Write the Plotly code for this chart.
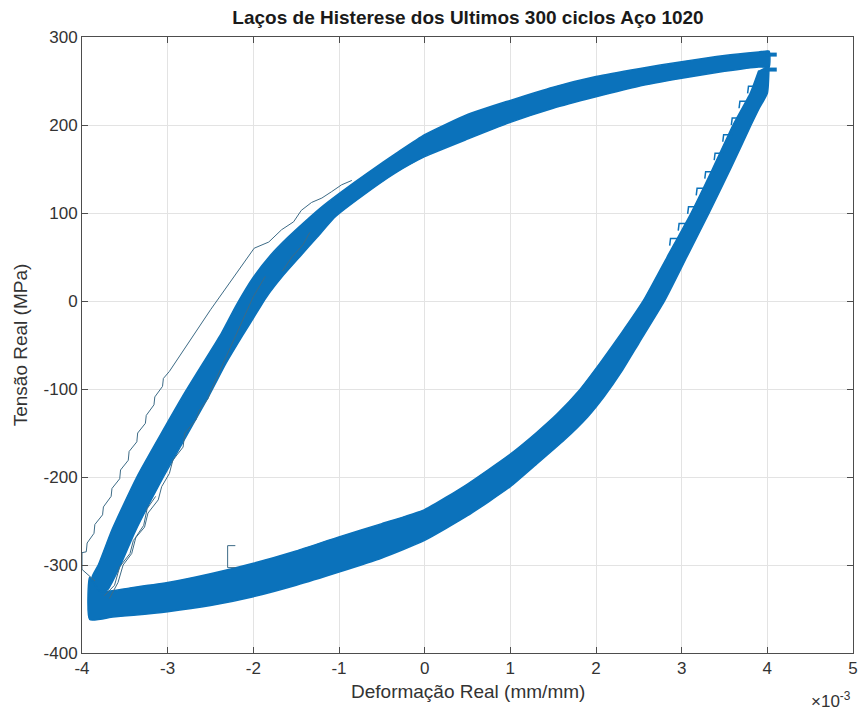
import plotly.graph_objects as go

# Strain values are in units of 1e-3 mm/mm, stress in MPa.

# Loading branch band (compression tip -> tension tip): outer edge, then inner edge back
load_outer_strain = [-3.91, -3.88, -3.81, -3.65, -3.36, -2.83, -2.59, -2.38, -2.2, -2.0, -1.8, -1.6,
                     -1.4, -1.2, -1.0, -0.66, -0.3, 0.0, 0.5, 1.0, 1.5, 2.0, 2.5, 3.0, 3.5, 3.9, 4.02]
load_outer_stress = [-340, -313, -300, -260, -200, -109, -71, -38, -5, 27, 52, 72,
                     90, 107, 122, 146, 170, 189, 212, 228, 243, 255, 264, 272, 279, 283, 284]
load_inner_strain = [4.02, 3.9, 3.5, 3.0, 2.5, 2.0, 1.5, 1.0, 0.5, 0.0, -0.35, -0.72, -1.04, -1.25,
                     -1.46, -1.66, -1.85, -1.99, -2.13, -2.32, -2.52, -3.05, -3.38, -3.55, -3.7, -3.79]
load_inner_stress = [266, 266, 261, 253, 244, 232, 219, 203, 184, 164, 145, 120, 96, 73,
                     50, 28, 4, -18, -40, -71, -108, -200, -262, -300, -328, -330]

# Unloading branch band (tension tip -> compression tip): outer edge, then inner edge back
unload_outer_strain = [4.02, 4.0, 3.9, 3.81, 3.57, 3.32, 3.06, 2.80, 2.5, 2.3, 2.1, 1.9, 1.63, 1.3,
                       1.0, 0.5, 0.0, -0.5, -1.0, -1.5, -2.0, -2.5, -3.0, -3.4, -3.64, -3.91]
unload_outer_stress = [268, 236, 218, 200, 150, 100, 50, 0, -48, -80, -108, -132, -158, -186,
                       -211, -244, -272, -292, -308, -323, -336, -346, -353, -357, -359, -362]
unload_inner_strain = [-3.91, -3.79, -3.44, -3.0, -2.5, -2.0, -1.5, -1.0, -0.5, 0.0, 0.5, 1.0, 1.3,
                       1.55, 1.8, 2.05, 2.3, 2.55, 2.83, 3.11, 3.36, 3.60, 3.80, 3.90]
unload_inner_stress = [-314, -330, -326, -320, -310, -298, -284, -268, -253, -237, -208, -174, -150,
                       -128, -102, -70, -36, 0, 50, 100, 150, 200, 236, 262]

# Outlying cycle on the compression side (left of the band)
outer_cycle_strain = [-3.85, -4.0, -4.0, -3.95, -3.94, -3.86, -3.85, -3.76, -3.75, -3.66, -3.65, -3.56, -3.55,
                      -3.46, -3.45, -3.36, -3.35, -3.26, -3.25, -3.16, -3.15, -3.06, -3.05, -2.98, -2.5,
                      -1.99, -1.82, -1.67, -1.53, -1.44, -1.32, -1.20, -1.09, -0.97, -0.85]
outer_cycle_stress = [-318, -305, -286, -285, -275, -264, -254, -243, -234, -222, -213, -202, -192,
                      -181, -171, -160, -150, -139, -130, -118, -109, -97, -88, -80, -10,
                      60, 67, 81, 90, 103, 112, 117, 124, 132, 137]

# Outlying cycles right of the loading band
inner_cycle_a_strain = [-3.74, -3.62, -3.56, -3.44, -3.40, -3.27, -3.23, -3.11, -3.07, -2.98, -2.94, -2.82,
                        -2.80, -2.67, -2.63, -2.53, -2.51, -2.28, -2.0, -1.86]
inner_cycle_a_stress = [-335, -323, -302, -287, -272, -257, -241, -226, -211, -196, -181, -166,
                        -150, -135, -124, -111, -105, -55, 5, 28]
inner_cycle_b_strain = [-3.68, -3.58, -3.52, -3.42, -3.37, -3.28, -3.24, -3.14]
inner_cycle_b_stress = [-338, -320, -300, -287, -268, -255, -236, -222]
inner_cycle_c_strain = [-1.66, -1.55, -1.42, -1.34]
inner_cycle_c_stress = [34, 50, 64, 78]

# Short interrupted segment below the compression band
bracket_strain = [-2.21, -2.30, -2.30, -2.21]
bracket_stress = [-278, -278, -303, -303]

# Step artefacts along the unloading branch
steps_strain = [2.86, 2.87, 2.97, None, 2.96, 2.97, 3.07, None, 3.07, 3.08, 3.18, None,
                3.17, 3.18, 3.28, None, 3.27, 3.28, 3.38, None, 3.38, 3.39, 3.49, None,
                3.48, 3.49, 3.59, None, 3.58, 3.59, 3.69, None, 3.67, 3.68, 3.78, None,
                3.77, 3.78, 3.88]
steps_stress = [63, 71, 71, None, 80, 88, 88, None, 99, 107, 107, None,
                120, 128, 128, None, 139, 147, 147, None, 160, 168, 168, None,
                181, 189, 189, None, 200, 208, 208, None, 219, 227, 227, None,
                236, 244, 244]

# Overshoot stubs at the tension tip
stub_strain = [3.98, 4.11, None, 3.98, 4.11]
stub_stress = [280, 280, None, 263, 263]

x_ticks = [-4, -3, -2, -1, 0, 1, 2, 3, 4, 5]
y_ticks = [-400, -300, -200, -100, 0, 100, 200, 300]

BLUE = "#0b72bb"
THIN = "#3d6b86"
AXIS = "#4d4d4d"
TEXT = "#333333"
FONT = "Liberation Sans, Arial, Helvetica, sans-serif"

fig = go.Figure()

fig.add_trace(go.Scatter(
    x=load_outer_strain + load_inner_strain,
    y=load_outer_stress + load_inner_stress,
    mode="lines", fill="toself", fillcolor=BLUE,
    line=dict(color=BLUE, width=1.5, shape="spline", smoothing=0.5), hoverinfo="skip"))
fig.add_trace(go.Scatter(
    x=unload_outer_strain + unload_inner_strain,
    y=unload_outer_stress + unload_inner_stress,
    mode="lines", fill="toself", fillcolor=BLUE,
    line=dict(color=BLUE, width=1.5, shape="spline", smoothing=0.5), hoverinfo="skip"))

for xs, ys in [(outer_cycle_strain, outer_cycle_stress),
               (inner_cycle_a_strain, inner_cycle_a_stress),
               (inner_cycle_b_strain, inner_cycle_b_stress),
               (inner_cycle_c_strain, inner_cycle_c_stress),
               (bracket_strain, bracket_stress)]:
    fig.add_trace(go.Scatter(x=xs, y=ys, mode="lines",
                             line=dict(color=THIN, width=1), hoverinfo="skip"))

fig.add_trace(go.Scatter(x=steps_strain, y=steps_stress, mode="lines",
                         line=dict(color=BLUE, width=1.5), hoverinfo="skip"))
fig.add_trace(go.Scatter(x=stub_strain, y=stub_stress, mode="lines",
                         line=dict(color=BLUE, width=4), hoverinfo="skip"))

axis_common = dict(
    showgrid=True, gridcolor="#e3e3e3", gridwidth=1,
    zeroline=False, showline=True, linecolor=AXIS, linewidth=1,
    mirror="allticks", ticks="inside", ticklen=6, tickcolor=AXIS,
    tickfont=dict(family=FONT, size=17, color=TEXT),
)

fig.update_layout(
    width=864, height=710,
    margin=dict(l=82, r=6, t=37, b=57),
    paper_bgcolor="white", plot_bgcolor="white",
    showlegend=False,
    title=dict(text="<b>Laços de Histerese dos Ultimos 300 ciclos Aço 1020</b>",
               x=0.5417, xanchor="center", y=0.975, yanchor="middle",
               font=dict(family=FONT, size=19, color="#1a1a1a")),
    xaxis=dict(range=[-4, 5], tickvals=x_ticks, ticktext=[str(v) for v in x_ticks], **axis_common),
    yaxis=dict(range=[-400, 300], tickvals=y_ticks, ticktext=[str(v) for v in y_ticks], **axis_common),
    annotations=[
        dict(text="Deformação Real (mm/mm)", xref="paper", yref="paper",
             x=0.5, y=-0.0633, xanchor="center", yanchor="middle", showarrow=False,
             font=dict(family=FONT, size=19, color=TEXT)),
        dict(text="Tensão Real (MPa)", xref="paper", yref="paper",
             x=-0.08, y=0.5, xanchor="center", yanchor="middle", textangle=-90, showarrow=False,
             font=dict(family=FONT, size=19, color=TEXT)),
        dict(text="×10<sup>-3</sup>", xref="paper", yref="paper",
             x=1.0, y=-0.076, xanchor="right", yanchor="middle", showarrow=False,
             font=dict(family=FONT, size=17, color=TEXT)),
    ],
)

fig.write_html("out.html")
